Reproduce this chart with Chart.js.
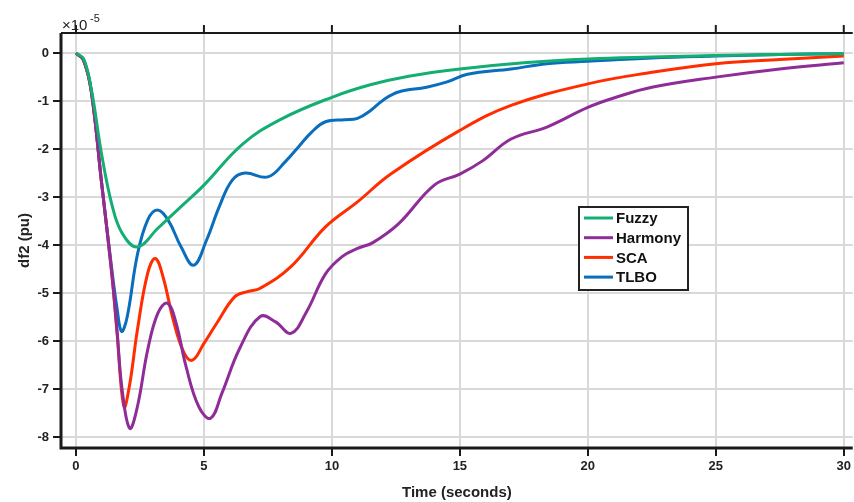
<!DOCTYPE html>
<html>
<head>
<meta charset="utf-8">
<script src="https://cdn.jsdelivr.net/npm/chart.js@4.4.1/dist/chart.umd.min.js"></script>
<style>
  html, body { margin: 0; padding: 0; background: #fff; }
  #wrap { width: 854px; height: 502px; position: relative; }
</style>
</head>
<body>
<div id="wrap"><canvas id="myChart" width="854" height="502"></canvas></div>
<script>
// ----------- data (values are x 1e-5 pu) -----------
const seriesNames = ['Fuzzy', 'Harmony', 'SCA', 'TLBO'];
const seriesColors = ['#14AE72', '#8E2C98', '#FF2D00', '#0A6EBE'];

const xTicks = [0, 5, 10, 15, 20, 25, 30];
const yTicks = [0, -1, -2, -3, -4, -5, -6, -7, -8];

const fuzzyT = [0, 0.3, 0.6, 1.0, 1.4, 1.8, 2.4, 3.2, 4.0, 5.0, 6.5, 8.0, 10, 11.5, 13, 15, 17.5, 20, 22.5, 25, 27.5, 30];
const fuzzyY = [0, -0.12, -0.75, -2.1, -3.15, -3.75, -4.04, -3.65, -3.25, -2.75, -1.9, -1.38, -0.92, -0.66, -0.48, -0.33, -0.2, -0.12, -0.08, -0.05, -0.03, -0.01];

const harmonyT = [0, 0.3, 0.6, 1.0, 1.4, 1.6, 1.8, 2.1, 2.4, 2.8, 3.2, 3.57, 3.9, 4.3, 4.8, 5.26, 5.7, 6.4, 7.2, 7.8, 8.4, 9.0, 9.75, 10.4, 11.0, 11.6, 12.6, 14.0, 15.0, 15.9, 17, 18.4, 20, 21.1, 22.5, 25, 27.5, 30];
const harmonyY = [0, -0.15, -0.8, -2.7, -4.6, -5.75, -7.0, -7.82, -7.37, -6.19, -5.42, -5.21, -5.6, -6.53, -7.37, -7.61, -7.09, -6.15, -5.49, -5.6, -5.84, -5.4, -4.6, -4.24, -4.07, -3.95, -3.56, -2.75, -2.52, -2.24, -1.79, -1.54, -1.13, -0.92, -0.71, -0.5, -0.33, -0.2];

const scaT = [0, 0.3, 0.6, 1.0, 1.4, 1.6, 1.875, 2.1, 2.4, 2.8, 3.1, 3.4, 3.8, 4.2, 4.55, 5.0, 5.5, 6.2, 6.7, 7.2, 8.4, 9.75, 11, 12.3, 15, 17, 20, 22.5, 25, 27.5, 30];
const scaY = [0, -0.15, -0.8, -2.7, -4.6, -5.8, -7.37, -6.9, -5.77, -4.59, -4.28, -4.66, -5.56, -6.22, -6.4, -6.05, -5.63, -5.08, -4.97, -4.9, -4.45, -3.62, -3.1, -2.52, -1.61, -1.09, -0.64, -0.4, -0.22, -0.13, -0.06];

const tlboT = [0, 0.3, 0.6, 1.0, 1.4, 1.6, 1.78, 2.0, 2.4, 2.8, 3.18, 3.6, 4.1, 4.6, 5.1, 5.6, 6.1, 6.6, 7.5, 8.2, 8.7, 9.2, 9.75, 10.5, 11.0, 11.5, 12.0, 12.6, 13.7, 14.5, 15.3, 17, 18.4, 20, 22.5, 25, 27.5, 30];
const tlboY = [0, -0.15, -0.8, -2.7, -4.5, -5.3, -5.8, -5.5, -4.2, -3.48, -3.27, -3.48, -4.03, -4.42, -3.9, -3.2, -2.65, -2.5, -2.58, -2.25, -1.95, -1.65, -1.43, -1.39, -1.36, -1.2, -0.98, -0.81, -0.71, -0.6, -0.44, -0.33, -0.22, -0.17, -0.1, -0.06, -0.03, -0.01];

const allT = [fuzzyT, harmonyT, scaT, tlboT];
const allY = [fuzzyY, harmonyY, scaY, tlboY];

// ghép (t, y) thành điểm cho Chart.js
function toPoints(ts, ys) {
    return ts.map((t, i) => ({ x: t, y: ys[i] }));
}

const FONT = 'Arial, "Liberation Sans", sans-serif';

// ----------- plugin: khung, nhãn x10^-5 và legend -----------
const extrasPlugin = {
    id: 'extras',
    afterDraw(chart) {
        const ctx = chart.ctx;
        const a = chart.chartArea;
        ctx.save();

        // khung trục (không có cạnh phải)
        ctx.strokeStyle = '#1a1a1a';
        ctx.lineWidth = 2;
        ctx.beginPath();
        ctx.moveTo(a.left, a.top);
        ctx.lineTo(a.right, a.top);
        ctx.stroke();
        ctx.lineWidth = 3;
        ctx.beginPath();
        ctx.moveTo(a.left, a.top);
        ctx.lineTo(a.left, a.bottom);
        ctx.lineTo(a.right, a.bottom);
        ctx.stroke();

        // ticks trên cạnh trên
        const xs = chart.scales.x;
        ctx.lineWidth = 2;
        xTicks.forEach(v => {
            const px = xs.getPixelForValue(v);
            ctx.beginPath();
            ctx.moveTo(px, a.top);
            ctx.lineTo(px, a.top - 8);
            ctx.stroke();
        });

        // x10^-5
        ctx.fillStyle = '#222';
        ctx.textBaseline = 'alphabetic';
        ctx.textAlign = 'left';
        ctx.font = '15px ' + FONT;
        ctx.fillText('\u00d710', a.left + 1, a.top - 3);
        ctx.font = '11px ' + FONT;
        ctx.fillText('-5', a.left + 29, a.top - 11);

        // legend
        const lx = 579, ly = 207, lw = 109, lh = 83;
        ctx.fillStyle = '#fff';
        ctx.fillRect(lx, ly, lw, lh);
        ctx.strokeStyle = '#222';
        ctx.lineWidth = 2;
        ctx.strokeRect(lx, ly, lw, lh);
        ctx.font = 'bold 15px ' + FONT;
        ctx.textBaseline = 'middle';
        seriesNames.forEach((name, i) => {
            const y = ly + 11 + i * 19.7;
            ctx.strokeStyle = seriesColors[i];
            ctx.lineWidth = 3;
            ctx.beginPath();
            ctx.moveTo(lx + 5, y);
            ctx.lineTo(lx + 34, y);
            ctx.stroke();
            ctx.fillStyle = '#111';
            ctx.fillText(name, lx + 37, y + 1);
        });

        ctx.restore();
    }
};

const datasets = seriesNames.map((name, i) => ({
    label: name,
    data: toPoints(allT[i], allY[i]),
    borderColor: seriesColors[i],
    backgroundColor: seriesColors[i],
    borderWidth: 3,
    pointRadius: 0,
    fill: false,
    tension: 0.4
}));

const ctx = document.getElementById('myChart').getContext('2d');
const myChart = new Chart(ctx, {
    type: 'line',
    data: { datasets: datasets },
    options: {
        responsive: false,
        animation: false,
        layout: { padding: { left: 0, top: 33, right: 0, bottom: 0 } },
        plugins: {
            legend: { display: false },
            tooltip: { enabled: false }
        },
        scales: {
            x: {
                type: 'linear',
                min: -0.585,
                max: 30.35,
                afterBuildTicks: axis => { axis.ticks = xTicks.map(v => ({ value: v })); },
                afterFit: scale => { scale.height = 54; },
                grid: { color: '#d9d9d9', lineWidth: 2, tickColor: '#1a1a1a', tickLength: 8, drawTicks: true },
                border: { display: false },
                ticks: { color: '#222', font: { family: FONT, size: 13, weight: 'bold' }, padding: 3, maxRotation: 0 },
                title: { display: true, text: 'Time (seconds)', color: '#222', font: { family: FONT, size: 15, weight: 'bold' }, padding: { top: 1, bottom: 0 } }
            },
            y: {
                type: 'linear',
                min: -8.23,
                max: 0.42,
                afterBuildTicks: axis => { axis.ticks = yTicks.map(v => ({ value: v })); },
                afterFit: scale => { scale.width = 61; },
                grid: { color: '#d9d9d9', lineWidth: 2, tickColor: '#1a1a1a', tickLength: 8, drawTicks: true },
                border: { display: false },
                ticks: { color: '#222', font: { family: FONT, size: 13, weight: 'bold' }, padding: 4 },
                title: { display: true, text: 'df2 (pu)', color: '#222', font: { family: FONT, size: 15, weight: 'bold' }, padding: { top: 16, bottom: 0 } }
            }
        }
    },
    plugins: [extrasPlugin]
});
</script>
</body>
</html>
